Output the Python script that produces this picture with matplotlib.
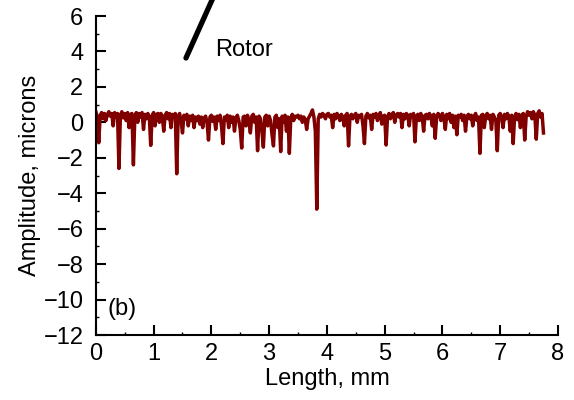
import numpy as np
import matplotlib.pyplot as plt
from matplotlib.ticker import MultipleLocator

plt.rcParams['font.family'] = ['Liberation Sans', 'DejaVu Sans']

# sampling step of the profile (mm)
dx = 0.025

# surface amplitude in microns, every 0.025 mm
amplitude = [
    0.6, 0.3, -1.15, 0.4, 0.55, 0.2, 0.5, 0.1, 0.45, 0.6,
    0.35, 0.5, -0.2, 0.55, 0.3, 0.5, -2.6, 0.4, 0.6, 0.25,
    0.5, 0.1, 0.55, -0.3, 0.45, 0.5, -2.4, 0.35, 0.55, 0.0,
    0.5, 0.3, 0.55, -0.4, 0.45, 0.2, 0.5, 0.3, -1.3, 0.4,
    0.55, -0.2, 0.45, 0.5, 0.0, 0.5, 0.35, -0.5, 0.4, 0.55,
    0.2, 0.5, -0.3, 0.45, 0.3, 0.5, -2.9, 0.35, 0.5, 0.1,
    -0.6, 0.4, 0.2, 0.45, -0.2, 0.35, 0.1, 0.4, -0.3, 0.3,
    0.1, 0.35, -0.1, 0.3, -0.3, 0.25, 0.35, 0.0, -1.0, 0.3,
    0.4, 0.05, 0.3, -0.4, 0.35, 0.1, 0.4, -0.2, -1.2, 0.3,
    0.15, 0.4, -0.3, 0.35, 0.0, 0.3, -0.5, 0.25, 0.4, 0.1,
    -0.4, -1.45, 0.3, 0.35, -0.2, 0.4, 0.1, -0.6, 0.35, 0.45,
    0.0, 0.3, -1.6, 0.35, 0.2, -0.5, -1.4, 0.3, 0.4, -0.2,
    0.35, 0.1, -0.7, -1.33, 0.3, 0.4, -0.3, 0.2, -1.65, 0.35,
    0.0, 0.4, -0.5, 0.3, -1.75, 0.25, 0.45, 0.1, 0.35, 0.3,
    0.4, 0.2, 0.35, 0.0, 0.3, 0.15, -0.4, 0.2, 0.35, 0.5,
    0.7, 0.3, -0.5, -4.9, 0.2, 0.45, 0.3, 0.5, 0.4, 0.2,
    0.45, 0.5, 0.3, 0.4, -0.3, 0.45, 0.2, 0.5, 0.35, 0.1,
    0.45, 0.3, -0.2, 0.4, 0.5, -1.33, 0.35, 0.45, 0.2, 0.4,
    0.5, 0.0, 0.4, 0.3, 0.45, -0.2, -1.2, 0.35, 0.5, 0.25,
    0.4, -0.4, 0.45, 0.3, 0.5, 0.1, 0.4, 0.55, -0.1, 0.35,
    0.4, -1.28, 0.3, 0.5, 0.2, 0.45, 0.55, 0.0, 0.4, 0.5,
    0.3, 0.5, -0.3, 0.45, 0.2, 0.5, 0.4, -0.2, 0.45, 0.3,
    0.5, -1.1, 0.35, 0.45, 0.1, 0.5, 0.3, -0.5, 0.4, 0.45,
    0.2, 0.5, 0.35, -0.2, 0.45, -0.9, 0.3, 0.5, 0.4, 0.1,
    0.5, 0.3, -0.4, 0.45, 0.2, 0.5, 0.0, 0.4, -0.3, 0.35,
    -0.7, 0.4, 0.3, 0.45, 0.1, 0.4, -0.5, 0.35, 0.45, 0.2,
    0.4, -0.2, 0.35, 0.5, 0.1, 0.3, -1.75, 0.4, 0.45, -0.3,
    0.35, 0.5, 0.2, 0.4, -0.4, 0.45, 0.3, 0.1, -1.6, 0.4,
    0.5, 0.3, -0.3, 0.45, 0.2, 0.5, 0.35, -0.5, 0.4, -1.2,
    0.3, 0.5, 0.15, 0.45, -0.3, 0.4, 0.5, -1.0, 0.35, 0.6,
    0.4, 0.55, 0.2, 0.6, 0.4, -0.95, 0.5, 0.65, 0.3, 0.5,
    -0.6,
]
length = np.arange(len(amplitude)) * dx

# rotor marker line (data coords)
rotor_x = [1.56, 2.08]
rotor_y = [3.63, 7.4]

fig = plt.figure(figsize=(5.74, 4.0), dpi=100)
ax = fig.add_axes([0.167, 0.1625, 0.805, 0.7975])

ax.plot(length, amplitude, color='#800000', lw=2.5)
ax.plot(rotor_x, rotor_y, color='black', lw=3.8, solid_capstyle='round', clip_on=False)
ax.text(2.06, 4.1, 'Rotor', fontsize=17, va='center', ha='left')
ax.text(0.2, -10.55, '(b)', fontsize=17, va='center', ha='left')

ax.set_xlim(0, 8)
ax.set_ylim(-12, 6)
ax.xaxis.set_major_locator(MultipleLocator(1))
ax.xaxis.set_minor_locator(MultipleLocator(0.5))
ax.yaxis.set_major_locator(MultipleLocator(2))
ax.yaxis.set_minor_locator(MultipleLocator(1))

for side in ['top', 'right']:
    ax.spines[side].set_visible(False)
for side in ['left', 'bottom']:
    ax.spines[side].set_linewidth(1.5)

ax.tick_params(which='major', direction='in', length=7, width=1.5, labelsize=17)
ax.tick_params(axis='y', which='major', pad=9)
ax.tick_params(axis='x', which='major', pad=6)
ax.tick_params(which='minor', direction='in', length=2.5, width=1)

ax.set_xlabel('Length, mm', fontsize=17, labelpad=2)
ax.set_ylabel('Amplitude, microns', fontsize=17, labelpad=2)

fig.savefig('out.png', dpi=100)
